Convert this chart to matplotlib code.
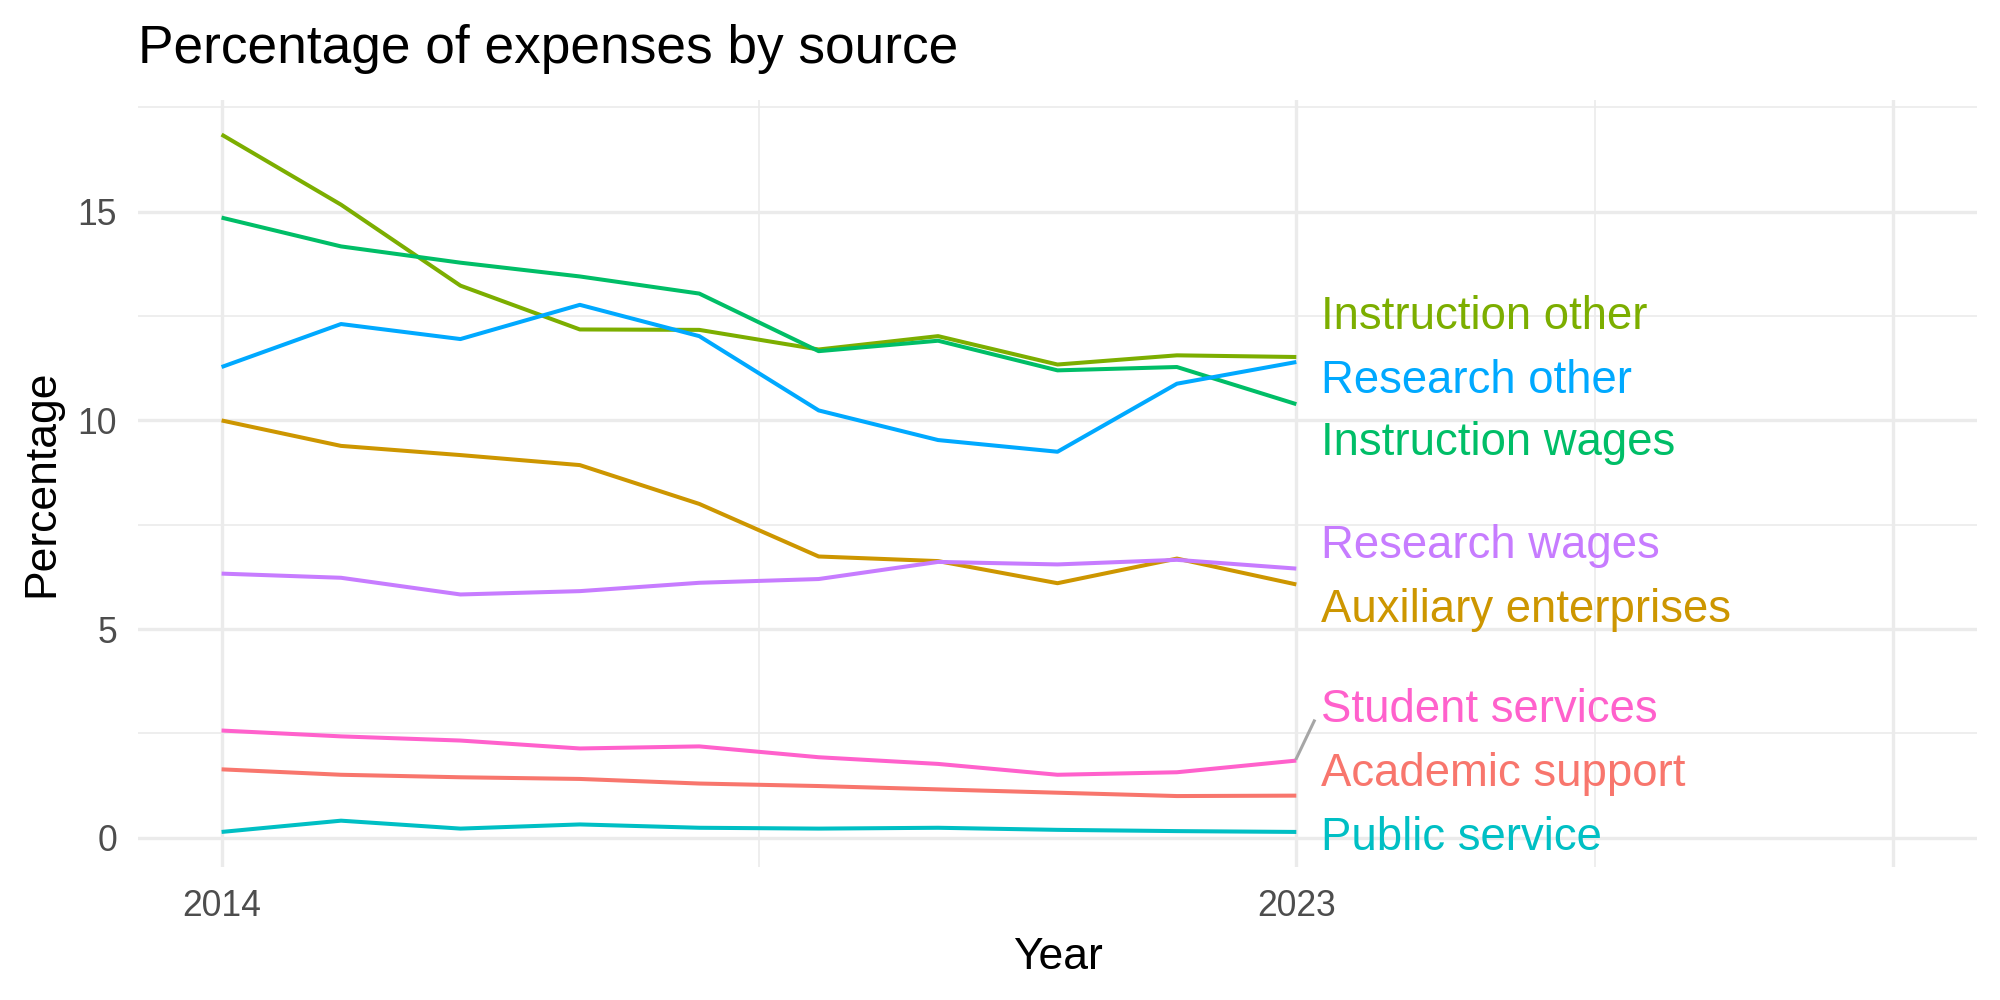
import matplotlib
matplotlib.use("Agg")
import matplotlib.pyplot as plt

plt.rcParams["font.family"] = ["Liberation Sans", "DejaVu Sans"]

years = [2014, 2015, 2016, 2017, 2018, 2019, 2020, 2021, 2022, 2023]

academic_support = [1.64, 1.51, 1.45, 1.41, 1.30, 1.24, 1.16, 1.08, 1.00, 1.01]
auxiliary_enterprises = [10.00, 9.39, 9.17, 8.93, 8.00, 6.74, 6.63, 6.10, 6.69, 6.07]
instruction_other = [16.85, 15.17, 13.23, 12.18, 12.17, 11.70, 12.02, 11.34, 11.56, 11.52]
instruction_wages = [14.86, 14.17, 13.78, 13.45, 13.04, 11.66, 11.91, 11.20, 11.28, 10.39]
public_service = [0.14, 0.41, 0.22, 0.32, 0.24, 0.22, 0.24, 0.19, 0.16, 0.14]
research_other = [11.28, 12.31, 11.95, 12.77, 12.02, 10.24, 9.53, 9.25, 10.88, 11.40]
research_wages = [6.33, 6.23, 5.83, 5.91, 6.11, 6.20, 6.61, 6.55, 6.66, 6.45]
student_services = [2.57, 2.43, 2.33, 2.14, 2.19, 1.93, 1.77, 1.51, 1.57, 1.85]

sources = ["Academic support", "Auxiliary enterprises", "Instruction other",
           "Instruction wages", "Public service", "Research other",
           "Research wages", "Student services"]
series = [academic_support, auxiliary_enterprises, instruction_other,
          instruction_wages, public_service, research_other,
          research_wages, student_services]
colors = ["#F8766D", "#CD9600", "#7CAE00", "#00BE67",
          "#00BFC4", "#00A9FF", "#C77CFF", "#FF61CC"]

# where the repelled labels ended up
label_y = {"Instruction other": 12.47, "Research other": 10.95,
           "Instruction wages": 9.45, "Research wages": 6.98,
           "Auxiliary enterprises": 5.46, "Student services": 3.05,
           "Academic support": 1.52, "Public service": 0.0}
with_segment = ["Student services"]

fig = plt.figure(figsize=(10, 5), dpi=200)
ax = fig.add_axes([0.069, 0.133, 0.9195, 0.7675])

grid_col = "#EBEBEB"
for y in [0, 5, 10, 15]:
    ax.axhline(y, color=grid_col, lw=1.2, zorder=0)
for y in [2.5, 7.5, 12.5, 17.5]:
    ax.axhline(y, color=grid_col, lw=0.6, zorder=0)
for x in [2014, 2023, 2028]:
    ax.axvline(x, color=grid_col, lw=1.2, zorder=0)
for x in [2018.5, 2025.5]:
    ax.axvline(x, color=grid_col, lw=0.6, zorder=0)

for name, vals, col in zip(sources, series, colors):
    ax.plot(years, vals, color=col, lw=1.45, solid_capstyle="butt", zorder=2)
    ly = label_y[name]
    if name in with_segment:
        ax.plot([years[-1], years[-1] + 0.15], [vals[-1] + 0.05, ly - 0.25],
                color="#A6A6A6", lw=1.1, zorder=2)
    ax.text(years[-1] + 0.21, ly, name, color=col, fontsize=16.4,
            ha="left", va="center", zorder=3)

ax.set_xlim(2013.3, 2028.7)
ax.set_ylim(-0.70, 17.69)
ax.set_xticks([2014, 2023])
ax.set_yticks([0, 5, 10, 15])
ax.tick_params(length=0, labelsize=12.8, labelcolor="#4D4D4D")
ax.tick_params(axis="x", pad=8)
ax.tick_params(axis="y", pad=7.5)
for s in ax.spines.values():
    s.set_visible(False)

ax.set_xlabel("Year", fontsize=16, labelpad=4.5)
ax.set_ylabel("Percentage", fontsize=16, labelpad=5.5)
ax.set_title("Percentage of expenses by source", fontsize=19.2, loc="left",
             pad=13)

fig.savefig("out.png", dpi=200, facecolor="white")
